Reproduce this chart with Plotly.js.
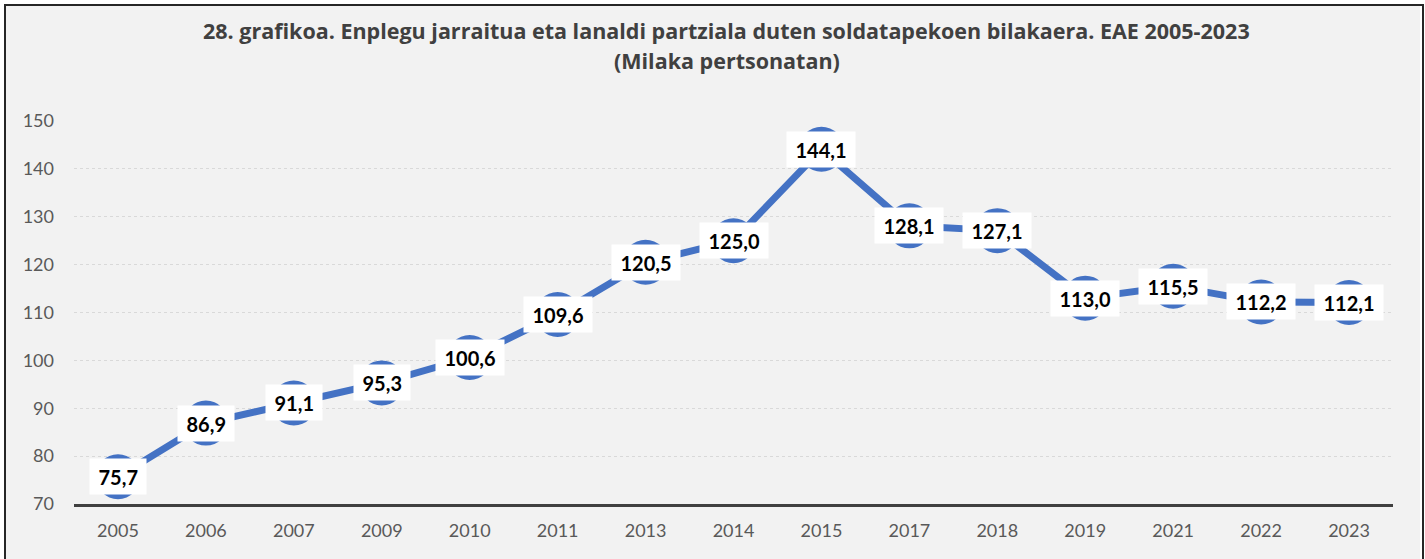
<!DOCTYPE html>
<html>
<head>
<meta charset="utf-8">
<script src="https://cdn.plot.ly/plotly-3.0.1.min.js"></script>
<style>
html,body{margin:0;padding:0;background:#ffffff;width:1425px;height:559px;overflow:hidden;}
#chart{position:absolute;left:6px;top:6px;width:1414px;height:553px;}
#frame{position:absolute;left:4px;top:4px;width:1416px;height:560px;border:2px solid #262626;pointer-events:none;box-sizing:content-box;}
</style>
</head>
<body>
<div id="chart"></div>
<div id="frame"></div>
<script>
const years = ["2005","2006","2007","2009","2010","2011","2013","2014","2015","2017","2018","2019","2021","2022","2023"];
const values = [75.7, 86.9, 91.1, 95.3, 100.6, 109.6, 120.5, 125.0, 144.1, 128.1, 127.1, 113.0, 115.5, 112.2, 112.1];
const yTicks = [70, 80, 90, 100, 110, 120, 130, 140, 150];
const titleLine1 = "28. grafikoa. Enplegu jarraitua eta lanaldi partziala duten soldatapekoen bilakaera. EAE 2005-2023";
const titleLine2 = "(Milaka pertsonatan)";

const FONT = "Lato, 'Open Sans', sans-serif";
const TITLE_FONT = "'Open Sans', Lato, sans-serif";
const labels = values.map(v => v.toFixed(1).replace('.', ','));
const PAD = '\u2009';

const trace = {
  x: years,
  y: values,
  type: 'scatter',
  mode: 'lines+markers',
  line: {color: '#4472c4', width: 7},
  marker: {color: '#4472c4', size: 45},
  hoverinfo: 'skip',
  cliponaxis: false
};

// category axis: annotation x given as category index
const annotations = years.map((yr, i) => ({
  x: i, y: values[i], xref: 'x', yref: 'y',
  text: '<b>' + PAD + labels[i] + PAD + '</b>',
  showarrow: false,
  font: {family: FONT, size: 20, color: '#000000'},
  bgcolor: '#ffffff',
  borderpad: 6,
  height: 23,
  xanchor: 'center', yanchor: 'middle'
}));

annotations.push({
  xref: 'paper', yref: 'paper', x: 0.495, y: 1, yshift: 91,
  xanchor: 'center', yanchor: 'middle', showarrow: false,
  text: '<b>' + titleLine1 + '</b>',
  font: {family: TITLE_FONT, size: 21.5, color: '#404040'}
});
annotations.push({
  xref: 'paper', yref: 'paper', x: 0.495, y: 1, yshift: 61,
  xanchor: 'center', yanchor: 'middle', showarrow: false,
  text: '<b>' + titleLine2 + '</b>',
  font: {family: TITLE_FONT, size: 21.5, color: '#404040'}
});

const layout = {
  width: 1414, height: 553,
  margin: {l: 68, r: 27, t: 115, b: 55},
  paper_bgcolor: '#f2f2f2',
  plot_bgcolor: '#f2f2f2',
  showlegend: false,
  font: {family: FONT, size: 18, color: '#595959'},
  xaxis: {
    type: 'category',
    range: [-0.5, years.length - 0.5],
    autorange: false,
    showgrid: false,
    showline: true, linecolor: '#404040', linewidth: 3,
    ticks: '', ticklabelstandoff: 8,
    tickfont: {family: FONT, size: 18, color: '#595959'},
    fixedrange: true
  },
  yaxis: {
    range: [70, 150],
    autorange: false,
    tickvals: yTicks,
    showgrid: true, gridcolor: '#d9d9d9', gridwidth: 1, griddash: 'dot',
    zeroline: false, showline: false, ticks: '',
    ticklabelstandoff: 19,
    tickfont: {family: FONT, size: 18, color: '#595959'},
    fixedrange: true
  },
  annotations: annotations
};

Plotly.newPlot('chart', [trace], layout, {displayModeBar: false, staticPlot: true});
</script>
</body>
</html>
